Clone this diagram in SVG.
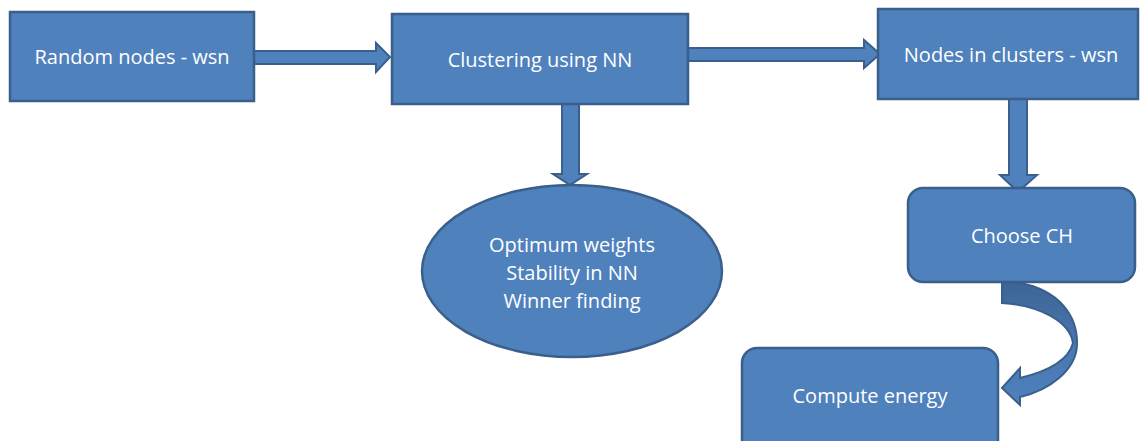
<svg xmlns="http://www.w3.org/2000/svg" width="1140" height="441" viewBox="0 0 1140 441">
<style>
.n{fill:#4f81bd;stroke:#3a5f8c;stroke-width:2.5}
.a{fill:#4f81bd;stroke:#3a5f8c;stroke-width:2}
.t{font-family:"Open Sans","Liberation Sans",sans-serif;font-size:20px;fill:#ffffff;text-anchor:middle}
</style>
<defs>
<linearGradient id="cg" x1="0" y1="0" x2="0" y2="1">
<stop offset="0" stop-color="#3d6596"/>
<stop offset="0.55" stop-color="#4a78b0"/>
<stop offset="1" stop-color="#4f81bd"/>
</linearGradient>
</defs>
<rect width="1140" height="441" fill="#ffffff"/>
<g id="connectors">
<path class="a" d="M254,51 L376,51 L376,43 L390,57 L376,72 L376,64 L254,64 Z"/>
<path class="a" d="M688,48 L864,48 L864,40 L880,54 L864,68 L864,61 L688,61 Z"/>
<path class="a" d="M562,104 L579,104 L579,174 L587,174 L570,185 L553,174 L562,174 Z"/>
<path class="a" d="M1009,99 L1027,99 L1027,175 L1037,175 L1018,192 L1000,175 L1009,175 Z"/>
<path d="M1002,283 L1020,283 C1058,290 1078,315 1077,345 C1076,370 1050,390 1020,397 L1020,405 L1002,388 L1020,368 L1020,378 C1045,372 1068,362 1073,343 C1070,322 1040,305 1002,303 Z" fill="url(#cg)" stroke="#3a5f8c" stroke-width="2"/>
</g>
<g id="n1">
<rect class="n" x="10" y="12" width="244" height="89"/>
<text class="t" x="132" y="64">Random nodes - wsn</text>
</g>
<g id="n2">
<rect class="n" x="392" y="14" width="296" height="90"/>
<text class="t" x="540" y="67">Clustering using NN</text>
</g>
<g id="n3">
<rect class="n" x="878" y="9" width="260" height="90"/>
<text class="t" x="1011" y="62">Nodes in clusters - wsn</text>
</g>
<g id="n4">
<ellipse class="n" cx="572" cy="271" rx="150" ry="86"/>
<text class="t" x="572" y="252">Optimum weights</text>
<text class="t" x="572" y="280">Stability in NN</text>
<text class="t" x="572" y="308">Winner finding</text>
</g>
<g id="n5">
<rect class="n" x="908" y="188" width="227" height="94" rx="15"/>
<text class="t" x="1022" y="243">Choose CH</text>
</g>
<g id="n6">
<rect class="n" x="742" y="348" width="256" height="110" rx="15"/>
<text class="t" x="870" y="403">Compute energy</text>
</g>
</svg>
